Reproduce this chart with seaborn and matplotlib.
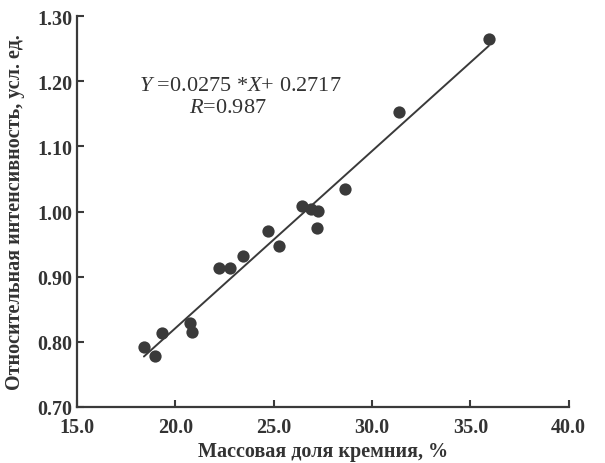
import matplotlib
matplotlib.use("Agg")
import matplotlib.pyplot as plt
import seaborn as sns
import pandas as pd

# values
si_mass_pct = [18.41, 18.98, 19.35, 20.77, 20.85, 22.24, 22.78, 23.43, 24.74, 25.29,
               26.43, 26.91, 27.25, 27.20, 28.63, 31.40, 35.94]
rel_intensity = [0.792, 0.778, 0.814, 0.829, 0.815, 0.914, 0.913, 0.931, 0.970, 0.947,
                 1.009, 1.004, 1.001, 0.974, 1.035, 1.153, 1.265]
x_ticks = [15.0, 20.0, 25.0, 30.0, 35.0, 40.0]
y_ticks = [0.70, 0.80, 0.90, 1.00, 1.10, 1.20, 1.30]

df = pd.DataFrame({"x": si_mass_pct, "y": rel_intensity})

sns.set_style("ticks")
plt.rcParams["font.family"] = ["Liberation Serif", "DejaVu Serif"]
plt.rcParams["mathtext.fontset"] = "custom"
plt.rcParams["mathtext.it"] = "Liberation Serif:italic"
plt.rcParams["mathtext.rm"] = "Liberation Serif"

dark = "#3a3a3a"
fig = plt.figure(figsize=(6.05, 4.64), dpi=100)
ax = fig.add_axes([0.127, 0.121, 0.813, 0.842])

sns.regplot(data=df, x="x", y="y", ax=ax, ci=None, truncate=True,
            scatter_kws={"s": 78, "color": dark, "alpha": 1, "linewidths": 0},
            line_kws={"color": dark, "lw": 1.4})

ax.set_xlim(15, 40)
ax.set_ylim(0.70, 1.30)
ax.set_xticks(x_ticks)
ax.set_yticks(y_ticks)
ax.set_xticklabels([f"{v:.1f}" for v in x_ticks])
ax.set_yticklabels([f"{v:.2f}" for v in y_ticks])
ax.tick_params(direction="in", length=5, width=1.5, color=dark, labelsize=14.5)
ax.tick_params(axis="x", pad=7)
ax.tick_params(axis="y", pad=3)
for lbl in ax.get_xticklabels() + ax.get_yticklabels():
    lbl.set_fontweight("bold")
    lbl.set_color("#333333")
for side in ["top", "right"]:
    ax.spines[side].set_visible(False)
for side in ["left", "bottom"]:
    ax.spines[side].set_color(dark)
    ax.spines[side].set_linewidth(1.6)

ax.set_xlabel("Массовая доля кремния, %", fontsize=14.5, fontweight="bold", color="#333333", labelpad=3)
ax.set_ylabel("Относительная интенсивность, усл. ед.", fontsize=14.5, fontweight="bold", color="#333333", labelpad=9)

ax.text(23.3, 1.193, r"$Y$ =0.0275 *$X$+ 0.2717", ha="center", va="center", fontsize=16, color="#333333")
ax.text(22.7, 1.160, r"$R$=0.987", ha="center", va="center", fontsize=16, color="#333333")

fig.savefig("out.png", dpi=100)
